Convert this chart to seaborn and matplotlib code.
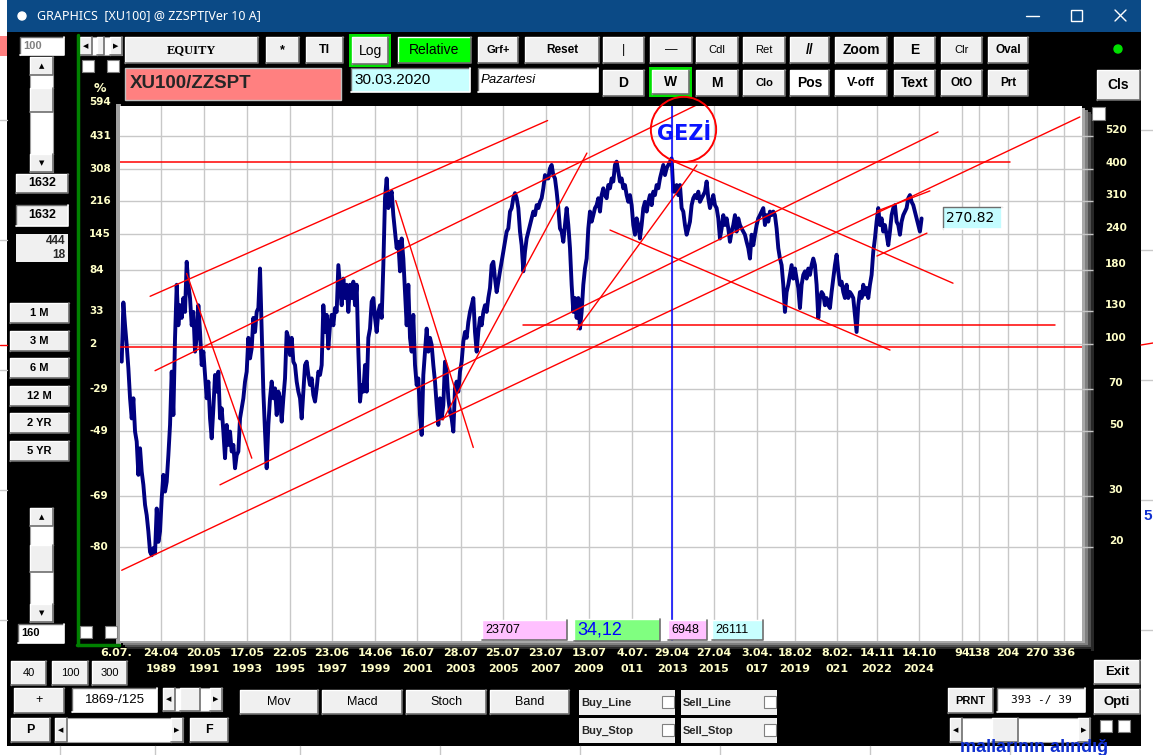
import numpy as np
import pandas as pd
import seaborn as sns
import matplotlib
matplotlib.use("Agg")
import matplotlib.pyplot as plt
from matplotlib.patches import Rectangle
from matplotlib.ticker import NullLocator
from matplotlib.transforms import blended_transform_factory, ScaledTranslation
from matplotlib import font_manager

index_1987_2005 = [
    86.9, 139, 116, 99.2, 82.4, 65.0, 55.4, 65.0, 49.9, 46.1,
    35.4, 43.7, 36.3, 32.7, 27.9, 25.7, 22.6, 19.2, 18.7, 19.8,
    19.0, 27.1, 20.8, 22.6, 29.4, 35.4, 31.0, 33.5, 41.4, 52.6,
    80.3, 56.9, 105, 160, 116, 136, 123, 144, 129, 192,
    160, 144, 116, 129, 94.1, 105, 136, 110, 84.6, 94.1,
    78.2, 65.0, 74.2, 55.4, 47.3, 60.0, 78.2, 68.5, 80.3, 55.4,
    60.0, 49.9, 40.4, 52.6, 44.9, 49.9, 42.6, 44.9, 37.3, 41.4,
    42.6, 55.4, 60.0, 65.0, 74.2, 80.3, 105, 89.2, 96.6, 123,
    110, 129, 133, 182, 110, 68.5, 49.9, 37.3, 52.6, 65.0,
    74.2, 65.0, 70.3, 56.9, 68.5, 65.0, 54.0, 65.0, 76.1, 110,
    105, 91.6, 105, 86.9, 84.6, 74.2, 68.5, 65.0, 55.4, 68.5,
    84.6, 86.9, 78.2, 72.2, 76.1, 66.7, 63.3, 70.3, 80.3, 78.2,
    84.6, 136, 110, 126, 96.6, 116, 126, 116, 133, 129,
    187, 160, 136, 168, 144, 160, 129, 160, 144, 164,
    136, 160, 94.1, 63.3, 72.2, 68.5, 84.6, 68.5, 105, 113,
    140, 144, 123, 110, 129, 136, 123, 187, 318, 372,
    294, 318, 335, 278, 244, 214, 225, 178, 231, 197,
    151, 116, 160, 105, 94.1, 126, 84.6, 72.2, 76.1, 56.9,
    48.6, 78.2, 94.1, 113, 94.1, 105, 99.2, 84.6, 74.2, 61.6,
    52.6, 65.0, 55.4, 61.6, 86.9, 80.3, 65.0, 58.4, 55.4, 49.9,
    70.3, 74.2, 68.5, 80.3, 86.9, 102, 110, 105, 119, 129,
    136, 144, 110, 94.1, 110, 123, 116, 129, 136, 129,
    144, 156, 187, 192, 168, 151, 164, 178, 192, 208,
    225, 244, 250,
]
index_2005_2024 = [
    286, 294, 318, 331, 318, 294, 244, 219, 178, 208,
    231, 244, 257, 271, 286, 278, 301, 294, 309, 318,
    344, 382, 372, 372, 403, 414, 382, 372, 335, 294,
    250, 244, 225, 257, 294, 257, 214, 160, 129, 144,
    123, 144, 113, 129, 160, 182, 197, 250, 286, 264,
    278, 294, 301, 318, 286, 326, 344, 326, 318, 353,
    344, 372, 363, 414, 425, 393, 363, 372, 344, 353,
    326, 309, 326, 301, 257, 238, 271, 257, 231, 257,
    294, 309, 286, 309, 326, 301, 335, 326, 353, 344,
    372, 393, 414, 382, 403, 414, 425, 436, 335, 335,
    353, 326, 353, 294, 286, 257, 238, 250, 264, 301,
    318, 326, 318, 335, 309, 318, 326, 335, 363, 318,
    294, 309, 326, 301, 294, 271, 231, 250, 278, 257,
    271, 250, 225, 244, 257, 278, 244, 271, 257, 250,
    244, 238, 225, 214, 197, 238, 219, 238, 257, 271,
    278, 286, 294, 257, 278, 264, 286, 278, 286, 278,
    250, 214, 197, 187, 160, 129, 151, 160, 173, 187,
    168, 182, 168, 156, 133, 160, 173, 178, 168, 182,
    173, 187, 197, 187, 160, 123, 144, 151, 148, 136,
    144, 136, 133, 151, 168, 187, 203, 178, 160, 164,
    151, 144, 160, 144, 151, 148, 144, 126, 110, 136,
    151, 144, 160, 148, 156, 144, 160, 173, 208, 231,
    264, 294, 257, 271, 244, 257, 238, 219, 244, 278,
    294, 301, 264, 257, 238, 264, 278, 286, 294, 318,
    326, 309, 301, 286, 271, 257, 244, 270.82,
]
first_year, last_year = 1987.47, 2024.92

# right axis (level) and left axis (% change) labels
right_ticks = [520, 400, 310, 240, 180, 130, 100, 70, 50, 30, 20]
left_levels = [680, 520, 400, 310, 240, 180, 130, 100, 70, 50, 30, 20]
left_labels = ["594", "431", "308", "216", "145", "84", "33", "2", "-29", "-49", "-69", "-80"]

# vertical grid (bar dates) and labels
grid_years = [1989.31, 1991.32, 1993.34, 1995.35, 1997.32, 1999.33, 2001.30,
              2003.35, 2005.32, 2007.33, 2009.35, 2011.36, 2013.24, 2015.20,
              2017.21, 2018.99, 2020.96, 2022.83, 2024.80]
date_top = ["24.04", "20.05", "17.05", "22.05", "23.06", "14.06", "16.07",
            "28.07", "25.07", "23.07", "13.07", "4.07.", "29.04", "27.04",
            "3.04.", "18.02", "8.02.", "14.11", "14.10"]
date_bottom = ["1989", "1991", "1993", "1995", "1997", "1999", "2001",
               "2003", "2005", "2007", "2009", "011", "2013", "2015",
               "017", "2019", "021", "2022", "2024"]
first_label_year, first_label = 1987.20, "6.07."
future_years = [2026.81, 2027.61, 2028.96, 2030.32, 2031.58]
future_labels = ["94", "138", "204", "270", "336"]

# trend lines drawn on the chart: (year, level) -> (year, level)
trend_lines = [
    ((1988.80, 146), (2007.41, 589)),
    ((1989.03, 80.9), (2014.54, 675)),
    ((1992.07, 32.7), (2025.69, 538)),
    ((1987.47, 16.6), (2032.33, 606)),
    ((1990.51, 175), (1993.56, 40.4)),
    ((2000.30, 312), (2003.93, 44.0)),
    ((2002.51, 54.7), (2009.25, 455)),
    ((2008.79, 112), (2014.40, 414)),
    ((2013.28, 427), (2026.39, 162)),
    ((2010.33, 247), (2023.44, 95.3)),
    ((2022.83, 287), (2025.31, 337)),
    ((2022.83, 201), (2025.17, 241)),
]
flat_lines = [(1987.39, 2008.32, 425), (2008.32, 2029.06, 425),
              (2006.26, 2031.16, 116), (1987.39, 2032.90, 97.6)]
gezi_year = 2013.25
gezi_circle = (2013.75, 551)
gezi_text = (2013.78, 529)
current_value = 270.82

sns.set_style("white")
names = {f.name for f in font_manager.fontManager.ttflist}
NARROW = "Liberation Sans Narrow" if "Liberation Sans Narrow" in names else "DejaVu Sans"
NSIZE = 10.5 if NARROW != "DejaVu Sans" else 8
GUI = ["Liberation Sans", "DejaVu Sans"]
ARROWS = ["DejaVu Sans"]
CREAM = "#ffffc8"
BTN = "#f0f0f0"

W, H = 1153, 755
fig = plt.figure(figsize=(W / 100, H / 100), dpi=100)
fig.patch.set_facecolor("black")

bg = fig.add_axes([0, 0, 1, 1], zorder=0)
bg.set_xlim(0, W)
bg.set_ylim(H, 0)
bg.axis("off")

ax = fig.add_axes([120 / W, 1 - 641 / H, 962 / W, 535 / H], zorder=2)
fg = fig.add_axes([0, 0, 1, 1], zorder=3)
fg.set_xlim(0, W)
fg.set_ylim(H, 0)
fg.axis("off")
fg.patch.set_alpha(0)


def rect(a, x0, y0, x1, y1, fc, ec="none", lw=1, z=1):
    a.add_patch(Rectangle((x0, y0), x1 - x0, y1 - y0, facecolor=fc, edgecolor=ec, lw=lw, zorder=z))


def button(x0, y0, x1, y1, label="", fc=BTN, fs=8.5, weight="bold", color="black",
           family=GUI, style="normal", ha="center", sunken=False, a=None):
    a = a or bg
    rect(a, x0, y0, x1, y1, fc)
    light, dark = ("#6e6e6e", "white") if sunken else ("white", "#6e6e6e")
    a.plot([x0, x0, x1], [y1, y0, y0], color=light, lw=1, zorder=2)
    a.plot([x0, x1, x1], [y1, y1, y0], color=dark, lw=1.2, zorder=2)
    if label:
        tx = {"center": (x0 + x1) / 2, "left": x0 + 3, "right": x1 - 3}[ha]
        a.text(tx, (y0 + y1) / 2, label, ha=ha, va="center", fontsize=fs, fontweight=weight,
               color=color, family=family, style=style, zorder=3)


def checkbox(x, y, s=12, a=None):
    a = a or bg
    rect(a, x, y, x + s, y + s, "white", "#808080", 0.8, 2)


def vscroll(x0, y0, x1, y1, t0, t1):
    rect(bg, x0, y0, x1, y1, "white", "#a0a0a0", 0.8)
    button(x0, y0, x1, y0 + 18, "▲", fs=5, family=ARROWS)
    button(x0, y1 - 18, x1, y1, "▼", fs=5, family=ARROWS)
    button(x0, t0, x1, t1)


def hscroll(x0, y0, x1, y1, t0=None, t1=None):
    rect(bg, x0, y0, x1, y1, "white", "#a0a0a0", 0.8)
    button(x0, y0, x0 + 12, y1, "◀", fs=5, family=ARROWS)
    button(x1 - 12, y0, x1, y1, "▶", fs=5, family=ARROWS)
    if t0 is not None:
        button(t0, y0, t1, y1)


# other windows around the app
rect(bg, 0, 0, W, H, "white")
for yy in [120, 240, 370, 490, 620]:
    bg.plot([0, 7], [yy, yy], color="#c8c8c8", lw=1)
    bg.plot([1141, W], [yy + 10, yy + 10], color="#c8c8c8", lw=1)
rect(bg, 0, 36, 7, 56, "#ff8080")
bg.plot([0, 7], [345, 345], color="red", lw=1)
bg.plot([1141, W], [345, 343], color="red", lw=1)
for xx in [60, 155, 300, 440, 580, 720, 870, 1010]:
    bg.plot([xx, xx], [746, H], color="#c8c8c8", lw=1)
bg.text(960, 756, "mallarının alındığ", color="#1030d0", fontsize=13, fontweight="bold",
        va="bottom", family=GUI)
bg.text(1143, 520, "5", color="#1030d0", fontsize=11, fontweight="bold", family=GUI)

# window frame and title bar
rect(bg, 7, 32, 1141, 746, "black")
rect(bg, 7, 0, 1141, 32, "#0b4a86")
bg.add_patch(plt.Circle((22, 16), 4, color="white", zorder=2))
bg.text(37, 16, "GRAPHICS  [XU100] @ ZZSPT[Ver 10 A]", color="white", fontsize=9,
        va="center", family="Noto Sans")
bg.plot([1026, 1039], [16, 16], color="white", lw=1)
rect(bg, 1071, 10, 1082, 21, "none", "white", 1, 2)
bg.plot([1115, 1126], [10, 21], color="white", lw=1)
bg.plot([1115, 1126], [21, 10], color="white", lw=1)

# top toolbar
button(20, 37, 64, 55, "100", fc="white", color="#808080", fs=8, ha="left", sunken=True)
hscroll(80, 37, 122, 55, 97, 104)
checkbox(82, 60)
checkbox(107, 60)
button(125, 37, 258, 63, "EQUITY", fs=9, family="Liberation Serif")
button(266, 37, 299, 63, "*", fs=9)
button(306, 37, 343, 63, "Tl", fs=9)
rect(bg, 349, 34, 391, 67, "#00e000")
button(352, 37, 388, 64, "Log", fs=10, weight="normal")
button(398, 37, 471, 63, "Relative", fc="#00ff00", fs=10, weight="normal")
button(478, 37, 518, 63, "Grf+", fs=8)
button(525, 37, 599, 63, "Reset", fs=8.5)
for x0, x1, lab, fs in [(603, 644, "|", 9), (650, 692, "—", 9), (696, 738, "Cdl", 8),
                        (743, 785, "Ret", 8), (790, 829, "//", 10), (835, 887, "Zoom", 10),
                        (894, 935, "E", 10), (941, 982, "Clr", 8), (988, 1028, "Oval", 8.5)]:
    button(x0, 37, x1, 63, lab, fs=fs, weight="bold" if lab in ("Zoom", "E", "Oval", "//") else "normal")
bg.add_patch(plt.Circle((1118, 49), 4, color="#00e000", zorder=2))

rect(bg, 125, 68, 341, 100, "#ff8080", "#c0c0c0", 1)
bg.text(130, 84, "XU100/ZZSPT", fontsize=13.5, fontweight="bold", va="center", family=GUI)
button(351, 68, 470, 92, "30.03.2020", fc="#c8ffff", fs=11, weight="normal", ha="left", sunken=True)
button(478, 68, 598, 92, "Pazartesi", fc="white", fs=9.5, weight="normal", style="italic",
       ha="left", sunken=True)
button(603, 70, 644, 96, "D", fs=10)
rect(bg, 649, 67, 692, 97, "#00e000")
button(652, 70, 689, 94, "W", fs=10)
for x0, x1, lab, fc, fs in [(696, 738, "M", BTN, 10), (743, 785, "Clo", BTN, 8),
                            (790, 829, "Pos", "white", 10), (835, 887, "V-off", "white", 9),
                            (894, 935, "Text", BTN, 10), (941, 982, "OtO", BTN, 8.5),
                            (988, 1028, "Prt", BTN, 8.5)]:
    button(x0, 70, x1, 96, lab, fc=fc, fs=fs)
button(1097, 70, 1140, 100, "Cls", fs=10)

# left panel
vscroll(30, 57, 53, 172, 88, 112)
button(16, 174, 68, 193, "1632", fs=9)
button(16, 205, 68, 226, "1632", fs=9, sunken=True)
rect(bg, 16, 234, 68, 262, BTN)
bg.text(65, 241, "444", ha="right", va="center", fontsize=8.5, fontweight="bold", family=GUI)
bg.text(65, 255, "18", ha="right", va="center", fontsize=8.5, fontweight="bold", family=GUI)
for i, lab in enumerate(["1 M", "3 M", "6 M", "12 M", "2 YR", "5 YR"]):
    y0 = 303 + i * 27.6
    button(10, y0, 69, y0 + 20, lab, fs=8)
vscroll(30, 508, 53, 622, 545, 572)
button(18, 624, 64, 643, "160", fc="white", fs=8, ha="left", sunken=True)
bg.plot([78, 78], [35, 645], color="#008000", lw=2.5)
bg.plot([77, 119], [645, 645], color="#008000", lw=2.5)
checkbox(80, 626)
checkbox(105, 626)
bg.text(100, 88, "%", color=CREAM, fontsize=9, fontweight="bold", ha="center", va="center", family=NARROW)

# plot frame shadow
rect(bg, 116, 104, 121, 645, "#a0a0a0")
for k, c in enumerate(["#a8a8a8", "#808080", "#505050", "#282828"]):
    rect(bg, 1082 + 3 * k, 108 + 2 * k, 1085 + 3 * k, 645 + 2 * k, c)
    rect(bg, 121 + 2 * k, 641 + 2 * k, 1085 + 3 * k, 643 + 2 * k, c)
checkbox(1092, 107, 13)

# main chart
ax.set_facecolor("white")
ax.set_yscale("log")
for v in right_ticks:
    ax.axhline(v, color="#c8c8c8", lw=1, zorder=0)
for yr in grid_years + future_years:
    ax.axvline(yr, color="#c8c8c8", lw=1, zorder=0)

values = index_1987_2005 + index_2005_2024
df = pd.DataFrame({"year": np.linspace(first_year, last_year, len(values)), "level": values})
sns.lineplot(data=df, x="year", y="level", ax=ax, color="#000080", lw=2.8,
             estimator=None, sort=False, zorder=2)

for (x0, v0), (x1, v1) in trend_lines:
    ax.plot([x0, x1], [v0, v1], color="red", lw=1.0, zorder=3)
for x0, x1, v in flat_lines:
    ax.plot([x0, x1], [v, v], color="red", lw=1.1, zorder=3)
ax.axvline(gezi_year, color="#0000ff", lw=1.1, zorder=3)
ax.plot([gezi_circle[0]], [gezi_circle[1]], marker="o", ms=47, mfc="none", mec="red",
        mew=1.4, zorder=4, clip_on=False)
ax.text(gezi_text[0], gezi_text[1], "GEZİ", color="#0a14ff", fontsize=15, fontweight="bold",
        ha="center", va="center", family="DejaVu Sans", zorder=5)

ax.set_xlim(1987.39, 2032.43)
ax.set_ylim(9.47, 661)
ax.set_xlabel("")
ax.set_ylabel("")
ax.set_xticks([])
for s in ax.spines.values():
    s.set_visible(False)

ax.set_yticks(right_ticks)
ax.set_yticklabels([str(v) for v in right_ticks])
ax.yaxis.set_minor_locator(NullLocator())
ax.yaxis.set_ticks_position("right")
ax.tick_params(axis="y", direction="out", length=8, width=1, color="#c8c8c8",
               labelcolor=CREAM, pad=16.5, labelsize=NSIZE - 0.5)
shift = ScaledTranslation(0, 7 / 100, fig.dpi_scale_trans)
for lab in ax.get_yticklabels():
    lab.set_ha("center")
    lab.set_fontweight("bold")
    lab.set_family(NARROW)
    lab.set_transform(lab.get_transform() + shift)

left_tr = blended_transform_factory(bg.transData, ax.transData)
for v, lab in zip(left_levels, left_labels):
    bg.text(89, v, lab, transform=left_tr, ha="left", va="center", color=CREAM,
            fontsize=NSIZE - 0.5, fontweight="bold", family=NARROW, clip_on=False)

date_tr = blended_transform_factory(ax.transData, bg.transData)
for yr, t, b in zip(grid_years, date_top, date_bottom):
    bg.text(yr, 653, t, transform=date_tr, ha="center", va="center", color=CREAM,
            fontsize=NSIZE, fontweight="bold", family=NARROW)
    bg.text(yr, 669, b, transform=date_tr, ha="center", va="center", color=CREAM,
            fontsize=NSIZE, fontweight="bold", family=NARROW)
bg.text(first_label_year, 653, first_label, transform=date_tr, ha="center", va="center",
        color=CREAM, fontsize=NSIZE, fontweight="bold", family=NARROW)
for yr, lab in zip(future_years, future_labels):
    bg.text(yr, 653, lab, transform=date_tr, ha="center", va="center", color=CREAM,
            fontsize=NSIZE, fontweight="bold", family=NARROW)

# boxes on the chart
button(943, 207, 1002, 229, f"{current_value:.2f}", fc="#c4fcff", fs=10, weight="normal",
       family="DejaVu Sans", ha="left", sunken=True, a=fg)
button(482, 620, 567, 640, "23707", fc="#ffc0ff", fs=9, weight="normal", ha="left", a=fg)
button(574, 619, 660, 641, "34,12", fc="#80ff80", fs=13, weight="normal", color="#0000ff",
       ha="left", a=fg)
button(668, 620, 707, 640, "6948", fc="#ffc0ff", fs=9, weight="normal", ha="left", a=fg)
button(712, 620, 763, 640, "26111", fc="#c8ffff", fs=9, weight="normal", ha="left", a=fg)

# bottom controls
for x0, x1, lab in [(11, 46, "40"), (52, 88, "100"), (92, 127, "300")]:
    button(x0, 661, x1, 685, lab, fs=8, weight="normal")
button(14, 688, 64, 713, "+", fs=9, weight="normal")
button(72, 688, 157, 712, "1869-/125", fc="white", fs=9.5, weight="normal", sunken=True)
hscroll(163, 688, 222, 711, 180, 200)
button(11, 718, 50, 742, "P", fs=9)
hscroll(55, 718, 183, 742)
button(190, 718, 228, 742, "F", fs=9)
for x0, x1, lab in [(240, 318, "Mov"), (322, 402, "Macd"), (406, 486, "Stoch"), (490, 569, "Band")]:
    button(x0, 690, x1, 714, lab, fs=9, weight="normal")
for x0, y0, lab in [(579, 690, "Buy_Line"), (681, 690, "Sell_Line"),
                    (579, 718, "Buy_Stop"), (681, 718, "Sell_Stop")]:
    rect(bg, x0, y0, x0 + 96, y0 + 25, BTN)
    bg.text(x0 + 2, y0 + 12.5, lab, fontsize=8, fontweight="bold", va="center", family=GUI)
    checkbox(x0 + 83, y0 + 6)
button(948, 688, 993, 713, "PRNT", fs=8)
button(997, 688, 1085, 712, "393 -/ 39", fc="white", fs=8, weight="normal",
       family="DejaVu Sans Mono", sunken=True)
button(1094, 660, 1140, 684, "Exit", fs=9.5)
button(1094, 689, 1140, 714, "Opti", fs=9.5)
hscroll(950, 718, 1090, 742, 992, 1018)
checkbox(1100, 720)
checkbox(1118, 720)

fig.savefig("out.png", dpi=100, facecolor=fig.get_facecolor())
